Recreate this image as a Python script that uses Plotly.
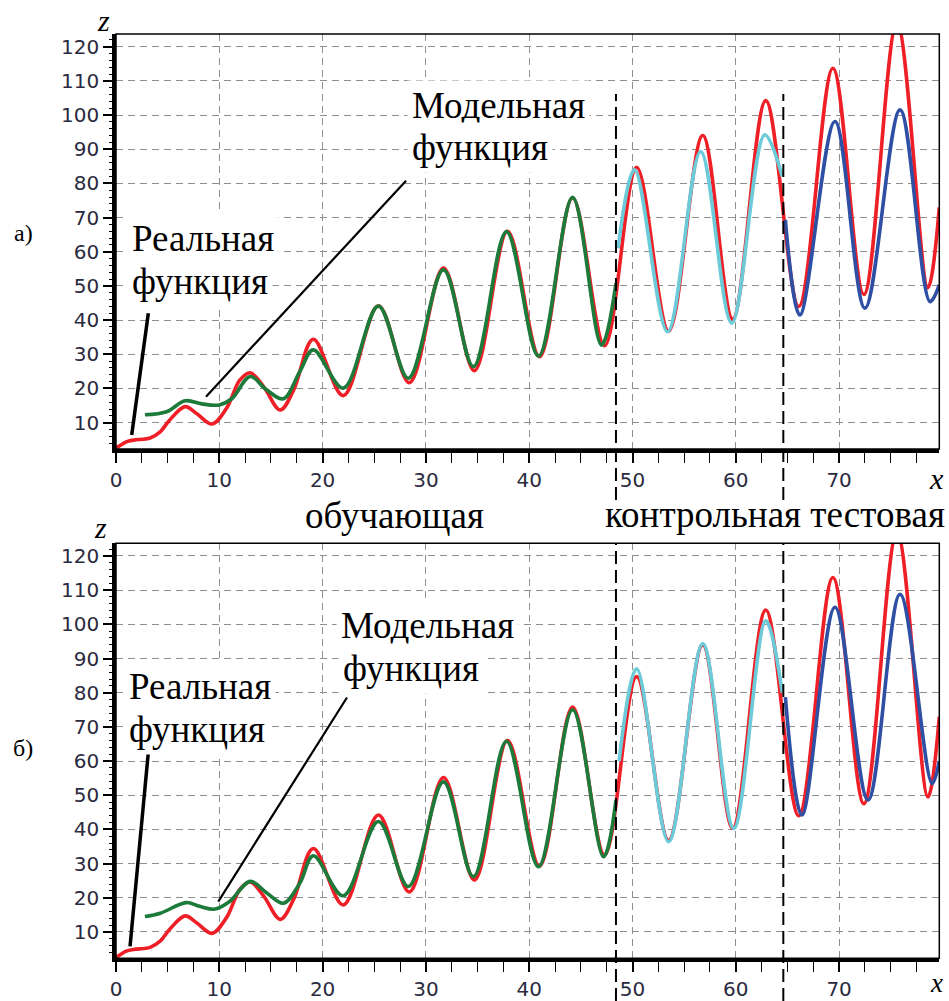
import plotly.graph_objects as go

# ---------------- data ----------------
x_real = [0, 1.0, 1.7, 3.3, 4.3, 5.2, 6.7, 7.8, 9.3, 10.7, 12.0, 13.0, 14.3, 15.9, 17.2, 19.1,
          22.0, 25.4, 28.4, 31.7, 34.7, 37.9, 41.0, 44.2, 47.3, 50.4, 53.5, 56.8, 59.7, 62.9,
          66.1, 69.4, 72.4, 75.6, 78.6, 79.7]
z_real = [2.5, 4.4, 4.9, 5.5, 7.4, 10.8, 14.7, 12.7, 9.6, 14.2, 22.5, 24.6, 20.5, 13.7, 19.6, 34.4,
          17.9, 44.2, 21.7, 55.2, 25.2, 66.0, 29.3, 75.8, 32.5, 84.7, 36.8, 94.0, 40.3, 104.2,
          44.0, 113.7, 47.5, 127.0, 49.5, 73.0]

# panel a) model function
x_train_a = [2.8, 4.9, 6.7, 8.3, 10.0, 11.2, 13.0, 14.5, 16.2, 17.8, 19.1, 22.0, 25.4, 28.3,
             31.7, 34.6, 37.8, 40.9, 44.2, 47.0, 48.4]
z_train_a = [12.3, 13.2, 16.4, 15.5, 15.2, 17.0, 23.5, 19.8, 17.0, 25.0, 31.3, 20.1, 44.1, 23.0,
             54.7, 26.4, 65.9, 29.5, 75.9, 32.7, 50.8]
x_ctrl_a = [48.6, 50.2, 53.4, 56.6, 59.6, 62.8, 64.5]
z_ctrl_a = [61.0, 84.0, 36.6, 89.3, 39.1, 94.2, 82.0]
x_test_a = [64.8, 66.2, 69.6, 72.5, 75.9, 78.8, 79.7]
z_test_a = [69.3, 41.5, 98.1, 43.5, 101.5, 45.4, 50.3]

# panel б) model function
x_train_b = [2.8, 4.3, 6.8, 8.1, 9.6, 11.0, 13.0, 14.6, 16.2, 17.8, 19.1, 22.0, 25.4, 28.3,
             31.7, 34.6, 37.8, 40.9, 44.2, 47.2, 48.4]
z_train_b = [14.5, 15.5, 18.6, 17.5, 16.7, 18.9, 24.8, 21.4, 18.4, 24.3, 32.3, 20.6, 42.3, 23.3,
             53.9, 26.2, 65.8, 29.1, 75.0, 32.0, 48.5]
x_ctrl_b = [48.7, 50.4, 53.5, 56.8, 59.8, 62.9, 64.5]
z_ctrl_b = [60.0, 87.0, 36.4, 94.3, 40.3, 101.0, 80.0]
x_test_b = [64.8, 66.4, 69.6, 72.8, 75.9, 79.0, 79.7]
z_test_b = [78.7, 44.2, 105.0, 48.6, 108.8, 53.4, 60.0]

# sample boundaries (training / control / test)
bounds = [48.4, 64.6]

x_ticks = [0, 10, 20, 30, 40, 50, 60, 70]
z_ticks = [10, 20, 30, 40, 50, 60, 70, 80, 90, 100, 110, 120]

# ---------------- styling ----------------
RED = "#ee1f26"
GREEN = "#1c7a3a"
CYAN = "#6ccbd8"
BLUE = "#2f4fa5"
GRID = "#8f8f8f"
TICKFONT = dict(family="DejaVu Sans", size=20, color="#2a2a40")
SERIF = "Liberation Serif"

W, H = 949, 1001
xdom = [116 / W, 939.3 / W]
ydom_a = [1 - 449 / H, 1 - 34 / H]
ydom_b = [1 - 958.3 / H, 1 - 543.3 / H]
XR = [0, 79.7]
YR = [2.3, 123.7]

fig = go.Figure()

LW = 3.6
for xa, ya, (xr, zr, xt, zt, xc, zc, xs, zs) in [
    ("x", "y", (x_real, z_real, x_train_a, z_train_a, x_ctrl_a, z_ctrl_a, x_test_a, z_test_a)),
    ("x2", "y2", (x_real, z_real, x_train_b, z_train_b, x_ctrl_b, z_ctrl_b, x_test_b, z_test_b)),
]:
    fig.add_trace(go.Scatter(x=xr, y=zr, mode="lines", line=dict(color=RED, width=LW, shape="spline"),
                             xaxis=xa, yaxis=ya, showlegend=False, hoverinfo="skip"))
    fig.add_trace(go.Scatter(x=xt, y=zt, mode="lines", line=dict(color=GREEN, width=LW, shape="spline"),
                             xaxis=xa, yaxis=ya, showlegend=False, hoverinfo="skip"))
    fig.add_trace(go.Scatter(x=xc, y=zc, mode="lines", line=dict(color=CYAN, width=LW, shape="spline"),
                             xaxis=xa, yaxis=ya, showlegend=False, hoverinfo="skip"))
    fig.add_trace(go.Scatter(x=xs, y=zs, mode="lines", line=dict(color=BLUE, width=LW, shape="spline"),
                             xaxis=xa, yaxis=ya, showlegend=False, hoverinfo="skip"))


def xaxis_cfg(anchor):
    return dict(domain=xdom, range=XR, anchor=anchor, tickvals=x_ticks, ticks="outside",
                ticklen=10, tickwidth=1.5, tickcolor="black", tickfont=TICKFONT,
                showline=True, linewidth=3.5, linecolor="black", automargin=False,
                showgrid=True, gridcolor=GRID, gridwidth=1.3, griddash="7px,5px",
                zeroline=False, fixedrange=True,
                minor=dict(dtick=2.5, tick0=0, ticks="outside", ticklen=10, tickwidth=1.3,
                           tickcolor="black", showgrid=False))


def yaxis_cfg(anchor, dom):
    return dict(domain=dom, range=YR, anchor=anchor, tickvals=z_ticks, ticks="outside",
                ticklen=9, tickwidth=1.5, tickcolor="black", tickfont=TICKFONT,
                showline=True, linewidth=3.5, linecolor="black", automargin=False,
                showgrid=True, gridcolor=GRID, gridwidth=1.3, griddash="7px,5px",
                zeroline=False, fixedrange=True,
                minor=dict(dtick=2, tick0=0, ticks="outside", ticklen=3, tickwidth=1,
                           tickcolor="black", showgrid=False))


fig.update_layout(
    template="none",
    width=W, height=H, autosize=False,
    margin=dict(l=0, r=0, t=0, b=0, autoexpand=False),
    paper_bgcolor="white", plot_bgcolor="white",
    xaxis=xaxis_cfg("y"), yaxis=yaxis_cfg("x", ydom_a),
    xaxis2=xaxis_cfg("y2"), yaxis2=yaxis_cfg("x2", ydom_b),
)

shapes = []
# thin frame (top / right border)
for xr_, yr_ in [("x domain", "y domain"), ("x2 domain", "y2 domain")]:
    shapes.append(dict(type="rect", xref=xr_, yref=yr_, x0=0, x1=1, y0=0, y1=1,
                       line=dict(color="black", width=1.5), layer="above"))
# sample boundaries
for b in bounds:
    shapes.append(dict(type="line", xref="x", yref="paper", x0=b, x1=b,
                       y0=1 - 500 / H, y1=1 - 94 / H,
                       line=dict(color="black", width=2, dash="13px,6px"), layer="above"))
    shapes.append(dict(type="line", xref="x2", yref="paper", x0=b, x1=b,
                       y0=0, y1=1 - 543 / H,
                       line=dict(color="black", width=2, dash="13px,6px"), layer="above"))
# pointers
pointers = [
    ("x", "y", 3.13, 42.0, 1.52, 6.4, 3.5),
    ("x", "y", 28.08, 80.8, 8.71, 17.6, 2.2),
    ("x2", "y2", 3.58, 77.0, 1.36, 5.8, 3.5),
    ("x2", "y2", 22.36, 78.6, 9.9, 18.9, 2.2),
]
for xr_, yr_, x0, y0, x1, y1, w in pointers:
    shapes.append(dict(type="line", xref=xr_, yref=yr_, x0=x0, y0=y0, x1=x1, y1=y1,
                       line=dict(color="black", width=w), layer="above"))
fig.update_layout(shapes=shapes)

ann = []
LBL = dict(family=SERIF, size=37, color="black")
for xr_, yr_, x, y, t in [
    ("x", "y", 1.06, 63.9, "Реальная"),
    ("x", "y", 1.1, 51.3, "функция"),
    ("x", "y", 28.2, 102.7, "Модельная"),
    ("x", "y", 28.2, 90.5, "функция"),
    ("x2", "y2", 0.77, 81.7, "Реальная"),
    ("x2", "y2", 0.8, 69.1, "функция"),
    ("x2", "y2", 21.3, 99.8, "Модельная"),
    ("x2", "y2", 21.45, 87.2, "функция"),
]:
    ann.append(dict(xref=xr_, yref=yr_, x=x, y=y, text=t, showarrow=False, xanchor="left",
                    yanchor="middle", font=LBL, bgcolor="white", borderpad=4))

ann.append(dict(xref="paper", yref="paper", x=394 / W, y=1 - 515.5 / H, text="обучающая",
                showarrow=False, xanchor="center", yanchor="middle", font=LBL))
ann.append(dict(xref="paper", yref="paper", x=603 / W, y=1 - 514 / H, text="контрольная тестовая",
                showarrow=False, xanchor="left", yanchor="middle", font=LBL))
for y, t in [(233, "а)"), (748, "б)")]:
    ann.append(dict(xref="paper", yref="paper", x=23 / W, y=1 - y / H, text=t, showarrow=False,
                    xanchor="center", yanchor="middle",
                    font=dict(family=SERIF, size=24, color="black")))
for x, y, s, t in [(103, 21, 30, "z"), (100, 527, 30, "z"), (936.5, 478, 30, "x"),
                   (936.5, 983, 27, "x")]:
    ann.append(dict(xref="paper", yref="paper", x=x / W, y=1 - y / H, text="<i>" + t + "</i>",
                    showarrow=False, xanchor="center", yanchor="middle",
                    font=dict(family=SERIF, size=s, color="black")))
fig.update_layout(annotations=ann)

fig.write_html("out.html", config={"displayModeBar": False},
               post_script="document.body.style.margin='0px';document.body.style.overflow='hidden';")
